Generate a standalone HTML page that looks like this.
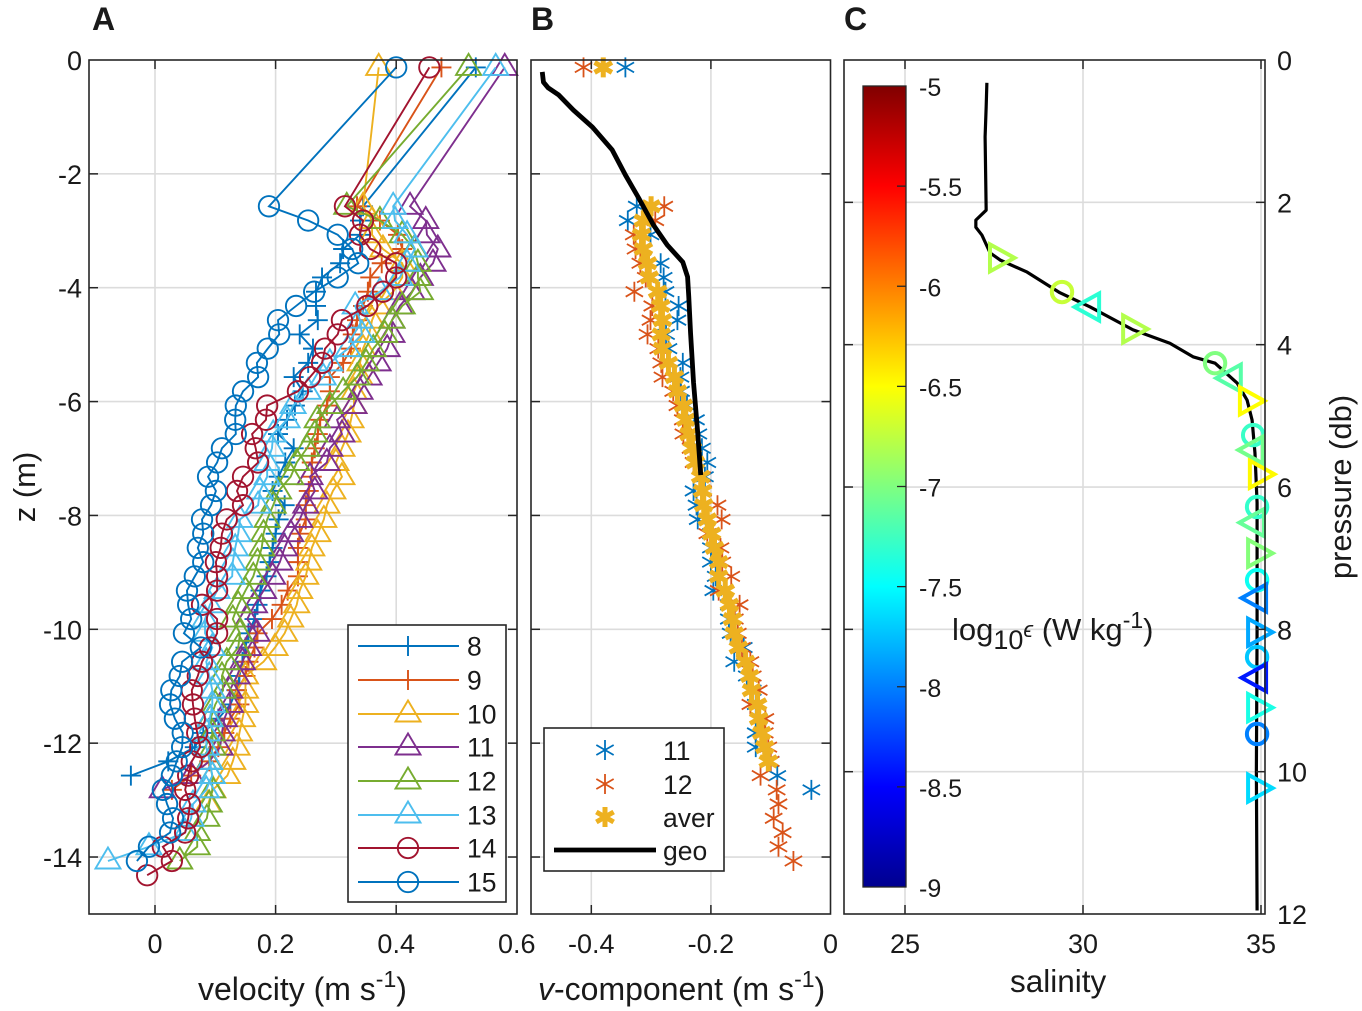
<!DOCTYPE html>
<html lang="en">
<head>
<meta charset="utf-8">
<title>Velocity, v-component and salinity profiles</title>
<style>
html,body{margin:0;padding:0;background:#fff;}
svg{display:block;}
text{font-family:"Liberation Sans",Arial,sans-serif;fill:#1a1a1a;}
</style>
</head>
<body>
<svg id="chart" width="1362" height="1011" viewBox="0 0 1362 1011" xmlns="http://www.w3.org/2000/svg">
<defs>
<linearGradient id="jetGrad" x1="0" y1="1" x2="0" y2="0">
<stop offset="0" stop-color="#00008f"/>
<stop offset="0.125" stop-color="#0000ff"/>
<stop offset="0.375" stop-color="#00ffff"/>
<stop offset="0.625" stop-color="#ffff00"/>
<stop offset="0.875" stop-color="#ff0000"/>
<stop offset="1" stop-color="#800000"/>
</linearGradient>
</defs>
<g id="layer"></g>
<text x="92" y="30" font-size="32" font-weight="bold">A</text>
<text x="531" y="30" font-size="32" font-weight="bold">B</text>
<text x="844" y="30" font-size="32" font-weight="bold">C</text>
<text x="198" y="1000" font-size="32">velocity (m s<tspan font-size="23" dy="-13">-1</tspan><tspan dy="13">)</tspan></text>
<text x="538" y="1000" font-size="32"><tspan font-style="italic">v</tspan>-component (m s<tspan font-size="23" dy="-13">-1</tspan><tspan dy="13">)</tspan></text>
<text x="1010" y="992" font-size="31.5">salinity</text>
<text transform="translate(35,487) rotate(-90)" font-size="31" text-anchor="middle">z (m)</text>
<text transform="translate(1351,487) rotate(-90)" font-size="31" text-anchor="middle">pressure (db)</text>
<text x="952" y="640" font-size="31">log<tspan font-size="27" dy="9">10</tspan><tspan font-size="22" font-style="italic" dy="-12">ϵ</tspan><tspan dy="3"> (W kg</tspan><tspan font-size="23" dy="-12">-1</tspan><tspan dy="12">)</tspan></text>
</svg>
<script>
// Shared depth bins (m)
const depths = [-0.13,-2.57,-2.82,-3.07,-3.32,-3.57,-3.82,-4.07,-4.32,-4.57,-4.82,-5.07,-5.32,-5.57,-5.82,-6.07,-6.32,-6.57,-6.82,-7.07,-7.32,-7.57,-7.82,-8.07,-8.32,-8.57,-8.82,-9.07,-9.32,-9.57,-9.82,-10.07,-10.32,-10.57,-10.82,-11.07,-11.32,-11.57,-11.82,-12.07,-12.32,-12.57,-12.82,-13.07,-13.32,-13.57,-13.82,-14.07,-14.32];

// Panel A: velocity (m/s) for each profile
const vel8 = [.532,.345,.34,.34,.312,.307,.277,.267,.267,.27,.24,.262,.254,.23,.245,.232,.219,.204,.23,.216,.205,.195,.215,.205,.2,.195,.19,.185,.175,.17,.165,.155,.15,.145,.14,.135,.125,.105,.08,.066,.022,-.04];
const vel9 = [.475,.335,.373,.403,.41,.376,.357,.353,.345,.335,.328,.325,.312,.29,.29,.285,.274,.27,.265,.26,.26,.255,.25,.25,.24,.237,.237,.237,.22,.21,.194,.17,.165,.155,.15,.136,.14,.125,.115,.105,.09,.06,.028];
const vel10 = [.371,.345,.36,.36,.378,.41,.41,.395,.37,.36,.355,.345,.34,.34,.33,.33,.325,.32,.31,.3,.31,.295,.285,.28,.27,.26,.255,.25,.24,.235,.225,.215,.199,.18,.15,.15,.15,.145,.14,.136,.129,.12,.096,.088];
const vel11 = [.58,.423,.449,.451,.469,.461,.44,.426,.406,.393,.393,.385,.37,.355,.34,.33,.302,.31,.29,.285,.257,.265,.25,.24,.225,.215,.207,.195,.18,.165,.153,.169,.155,.145,.136,.124,.125,.115,.111,.108,.09,.06,.012];
const vel12 = [.52,.318,.373,.41,.43,.436,.436,.44,.41,.393,.381,.362,.35,.335,.312,.29,.269,.265,.252,.235,.225,.205,.196,.186,.18,.177,.17,.163,.15,.138,.129,.141,.138,.119,.111,.113,.1,.092,.095,.096,.09,.095,.095,.09,.086,.07,.07,.041];
const vel13 = [.565,.395,.398,.418,.431,.418,.406,.373,.332,.34,.343,.32,.29,.279,.254,.229,.219,.196,.194,.186,.186,.174,.171,.141,.138,.133,.129,.128,.103,.091,.083,.083,.095,.085,.09,.095,.095,.091,.086,.085,.091,.095,.085,.063,.06,.05,-.01,-.078];
const vel14 = [.455,.315,.345,.34,.357,.4,.4,.378,.352,.31,.303,.282,.277,.257,.237,.186,.184,.161,.167,.171,.146,.136,.146,.119,.111,.109,.101,.103,.103,.078,.103,.103,.091,.078,.071,.061,.063,.066,.07,.075,.061,.055,.05,.058,.055,.05,.013,.028,-.013];
const vel15 = [.4,.189,.254,.303,.327,.337,.303,.264,.234,.204,.206,.187,.169,.171,.146,.134,.133,.134,.111,.103,.088,.101,.093,.078,.08,.071,.08,.066,.053,.055,.06,.048,.076,.045,.041,.027,.025,.033,.046,.045,.036,.028,.013,.02,.03,.025,-.01,-.03];

// Panel A: series metadata
const seriesNames = ['8','9','10','11','12','13','14','15'];
const seriesColors = ['#0072BD','#D95319','#EDB120','#7E2F8E','#77AC30','#4DBEEE','#A2142F','#0072BD'];
const seriesMarkers = ['plus','plus','tri','tri','tri','tri','circle','circle'];
const seriesValues = [vel8,vel9,vel10,vel11,vel12,vel13,vel14,vel15];

// Panel B: v-component (m/s)
const vComp11 = [-.343,-.324,-.339,-.301,-.313,-.284,-.279,-.276,-.254,-.256,-.275,-.271,-.247,-.251,-.25,-.24,-.225,-.221,-.215,-.206,-.21,-.229,-.224,-.222,-.2,-.2,-.2,-.192,-.196,-.17,-.17,-.167,-.145,-.161,-.14,-.13,-.125,-.12,-.125,-.125,-.1,-.089,-.032];
const vComp12 = [-.413,-.278,-.293,-.329,-.326,-.318,-.309,-.328,-.298,-.301,-.306,-.288,-.283,-.281,-.263,-.256,-.247,-.246,-.234,-.229,-.215,-.213,-.189,-.182,-.206,-.184,-.181,-.166,-.187,-.152,-.16,-.155,-.148,-.134,-.13,-.12,-.134,-.109,-.11,-.104,-.1,-.117,-.09,-.087,-.095,-.08,-.087,-.062];
const vCompAver = [-.38,-.3,-.313,-.316,-.313,-.306,-.303,-.289,-.284,-.281,-.283,-.281,-.271,-.261,-.256,-.246,-.242,-.237,-.231,-.226,-.217,-.214,-.212,-.206,-.199,-.194,-.187,-.187,-.176,-.169,-.164,-.161,-.154,-.142,-.135,-.132,-.122,-.12,-.115,-.11,-.104];
const geoV = [-.482,-.48,-.472,-.455,-.43,-.398,-.365,-.343,-.321,-.296,-.273,-.247,-.239,-.237,-.234,-.229,-.222,-.217];
const geoZ = [-.21,-.39,-.49,-.61,-.88,-1.18,-1.58,-2.02,-2.42,-2.9,-3.25,-3.55,-3.81,-4.16,-4.8,-5.67,-6.55,-7.29];

// Panel C: salinity profile
const salinity = [27.3,27.28,27.25,27.28,26.99,26.99,27.16,27.39,27.67,28.43,29.35,30.2,31.4,32.44,33.09,33.71,34.33,34.61,34.75,34.83,34.89,34.89,34.87,34.89];
const salPressure = [.32,.66,1.08,2.11,2.25,2.35,2.46,2.71,2.81,2.98,3.27,3.47,3.79,3.98,4.17,4.26,4.54,4.78,5.06,5.52,6.22,8,10,11.95];

// Panel C: dissipation markers
const epsSalinity = [27.64,29.41,30.2,31.38,33.71,34.18,34.66,34.78,34.8,34.94,34.89,34.83,34.89,34.89,34.89,34.89,34.89,34.89,34.89,34.89,34.89];
const epsPressure = [2.78,3.26,3.47,3.78,4.26,4.47,4.79,5.27,5.48,5.82,6.28,6.5,6.93,7.31,7.56,8.04,8.39,8.68,9.1,9.47,10.23];
const epsLog = [-6.8,-6.72,-7.33,-6.8,-7,-7.16,-6.5,-7.28,-7.05,-6.48,-7.3,-7.1,-6.98,-7.45,-8,-7.84,-7.72,-8.4,-7.4,-8,-7.64];
const epsMarker = ['r','o','l','r','o','l','r','o','l','r','o','l','r','o','l','r','o','l','r','o','r'];

// Tick labels
const zTicks = [0,-2,-4,-6,-8,-10,-12,-14];
const velTicks = [0,0.2,0.4,0.6];
const vTicks = [-0.4,-0.2,0];
const salTicks = [25,30,35];
const presTicks = [0,2,4,6,8,10,12];
const cbTicks = [-5,-5.5,-6,-6.5,-7,-7.5,-8,-8.5,-9];

// Axis functions
function yZ(z){return 60-z*56.93;}
function xVel(v){return 155+v*603;}
function xV(v){return 830.5+v*598;}
function xSal(s){return 905+(s-25)*35.6;}
function yPres(p){return 60+p*71.17;}
function yCb(v){return 86+(-5-v)*200.25;}
function jet(v){
  const t=(v+9)/4;
  const ch=function(c){return Math.round(255*Math.max(0,Math.min(1,c)));};
  const r=Math.min(4*t-1.5,-4*t+4.5), g=Math.min(4*t-0.5,-4*t+3.5), b=Math.min(4*t+0.5,-4*t+2.5);
  return 'rgb('+ch(r)+','+ch(g)+','+ch(b)+')';
}

const NS='http://www.w3.org/2000/svg';
const root=document.getElementById('layer');
const INK='#262626', GRID='#dcdcdc';
function mk(tag,attrs,parent){
  const e=document.createElementNS(NS,tag);
  for(const k in attrs){e.setAttribute(k,attrs[k]);}
  (parent||root).appendChild(e);
  return e;
}
function markerEl(kind,x,y,color,lw,parent){
  if(kind==='circle'){return mk('circle',{cx:x,cy:y,r:10.2,fill:'none',stroke:color,'stroke-width':lw},parent);}
  if(kind==='plus'){return mk('path',{d:'M'+(x-10)+' '+y+'H'+(x+10)+'M'+x+' '+(y-10)+'V'+(y+10),fill:'none',stroke:color,'stroke-width':lw},parent);}
  if(kind==='tri'){return mk('path',{d:'M'+x+' '+(y-13.5)+'L'+(x+12.5)+' '+(y+7.5)+'L'+(x-12.5)+' '+(y+7.5)+'Z',fill:'none',stroke:color,'stroke-width':lw},parent);}
  if(kind==='star'){const dx=8.66,dy=5;return mk('path',{d:'M'+x+' '+(y-10)+'V'+(y+10)+'M'+(x-dx)+' '+(y-dy)+'L'+(x+dx)+' '+(y+dy)+'M'+(x-dx)+' '+(y+dy)+'L'+(x+dx)+' '+(y-dy),fill:'none',stroke:color,'stroke-width':lw,'stroke-linecap':'butt'},parent);}
  if(kind==='r'){return mk('path',{d:'M'+(x-9)+' '+(y-13.5)+'L'+(x+15.5)+' '+y+'L'+(x-9)+' '+(y+13.5)+'Z',fill:'none',stroke:color,'stroke-width':lw},parent);}
  if(kind==='l'){return mk('path',{d:'M'+(x+9)+' '+(y-13.5)+'L'+(x-15.5)+' '+y+'L'+(x+9)+' '+(y+13.5)+'Z',fill:'none',stroke:color,'stroke-width':lw},parent);}
}
function label(txt,x,y,anchor,size,parent){
  const t=mk('text',{x:x,y:y,'text-anchor':anchor,'font-size':size},parent);
  t.textContent=txt;
  return t;
}
function vline(x,y1,y2,col,w,parent){return mk('line',{x1:x,x2:x,y1:y1,y2:y2,stroke:col,'stroke-width':w},parent);}
function hline(y,x1,x2,col,w,parent){return mk('line',{x1:x1,x2:x2,y1:y,y2:y,stroke:col,'stroke-width':w},parent);}

// Grid + frame for one panel
function panel(name,L,R,T,B,xs,ys){
  const g=mk('g',{});
  
  
  xs.forEach(function(x){if(x>L+1&&x<R-1){vline(x,T,B,GRID,1.6,g);}});
  ys.forEach(function(y){if(y>T+1&&y<B-1){hline(y,L,R,GRID,1.6,g);}});
}
function frame(name,L,R,T,B,xs,ys){
  const g=mk('g',{});
  
  
  mk('rect',{x:L,y:T,width:R-L,height:B-T,fill:'none',stroke:INK,'stroke-width':1.6},g);
  xs.forEach(function(x){if(x>L+1&&x<R-1){vline(x,T,T+9,INK,1.5,g);vline(x,B-9,B,INK,1.5,g);}});
  ys.forEach(function(y){if(y>T+1&&y<B-1){hline(y,L,L+9,INK,1.5,g);hline(y,R-9,R,INK,1.5,g);}});
}

const TOP=60,BOT=914;
const zPix=zTicks.map(yZ);
const presPix=presTicks.map(yPres);

panel('panel-a',89,517,TOP,BOT,velTicks.map(xVel),zPix);
panel('panel-b',531,830.5,TOP,BOT,vTicks.map(xV),zPix);
panel('panel-c',844,1265,TOP,BOT,salTicks.map(xSal),presPix);

// Panel A series
seriesValues.forEach(function(vals,s){
  const g=mk('g',{});
  
  
  const pts=vals.map(function(v,i){return xVel(v)+','+yZ(depths[i]);}).join(' ');
  const ln=mk('polyline',{points:pts,fill:'none',stroke:seriesColors[s],'stroke-width':1.9},g);
  
  
  vals.forEach(function(v,i){
    const m=markerEl(seriesMarkers[s],xVel(v),yZ(depths[i]),seriesColors[s],1.9,g);
    
    
  });
});

// Panel A legend
(function(){
  const g=mk('g',{});
  
  
  mk('rect',{x:348,y:625,width:158,height:277,fill:'#fff',stroke:INK,'stroke-width':1.6},g);
  const rowY=[646,680,714,747,781,815,848,882];
  seriesNames.forEach(function(n,i){
    const row=mk('g',{},g);
    
    
    hline(rowY[i],358,459,seriesColors[i],1.9,row);
    markerEl(seriesMarkers[i],408,rowY[i],seriesColors[i],1.9,row);
    label(n,467,rowY[i]+9.5,'start',26.5,row);
  });
})();

// Panel B series
[[vComp11,'#0072BD',1.8,'vcomp-11'],[vComp12,'#D95319',1.8,'vcomp-12'],[vCompAver,'#EDB120',5,'vcomp-aver']].forEach(function(def){
  const g=mk('g',{});
  
  
  def[0].forEach(function(v,i){
    const m=markerEl('star',xV(v),yZ(depths[i]),def[1],def[2],g);
    
    
  });
});
(function(){
  const pts=geoV.map(function(v,i){return xV(v)+','+yZ(geoZ[i]);}).join(' ');
  const ln=mk('polyline',{points:pts,fill:'none',stroke:'#000','stroke-width':4.8,'stroke-linejoin':'round'});
  
  
})();

// Panel B legend
(function(){
  const g=mk('g',{});
  
  
  mk('rect',{x:544,y:728,width:180,height:143,fill:'#fff',stroke:INK,'stroke-width':1.6},g);
  const e1=markerEl('star',605,750,'#0072BD',1.8,g);
  
  
  const e2=markerEl('star',605,784,'#D95319',1.8,g);
  
  
  const e3=markerEl('star',605,817,'#EDB120',5,g);
  
  
  const e4=hline(850,554,656,'#000',4.8,g);
  
  
  label('11',663,760,'start',26.5,g);
  label('12',663,794,'start',26.5,g);
  label('aver',663,827,'start',26.5,g);
  label('geo',663,860,'start',26.5,g);
})();

// Panel C colorbar
(function(){
  const g=mk('g',{});
  
  
  mk('rect',{x:863,y:86,width:43,height:801,fill:'url(#jetGrad)',stroke:INK,'stroke-width':1.3},g);
  cbTicks.forEach(function(v){
    const y=yCb(v);
    if(v>-9&&v<-5){hline(y,897,906,INK,1.3,g);}
    label(String(v),919,y+10,'start',25,g);
  });
})();

// Panel C salinity
(function(){
  const pts=salinity.map(function(s,i){return xSal(s)+','+yPres(salPressure[i]);}).join(' ');
  const ln=mk('polyline',{points:pts,fill:'none',stroke:'#000','stroke-width':3.2,'stroke-linejoin':'round'});
  
  
  epsLog.forEach(function(v,i){
    const kind=epsMarker[i]==='o'?'circle':epsMarker[i];
    const m=markerEl(kind,xSal(epsSalinity[i]),yPres(epsPressure[i]),jet(v),4);
    
    
  });
})();

frame('panel-a',89,517,TOP,BOT,velTicks.map(xVel),zPix);
frame('panel-b',531,830.5,TOP,BOT,vTicks.map(xV),zPix);
frame('panel-c',844,1265,TOP,BOT,salTicks.map(xSal),presPix);

// Tick labels
(function(){
  const g=mk('g',{});
  
  
  zTicks.forEach(function(z){label(String(z),82,yZ(z)+10,'end',27,g);});
  velTicks.forEach(function(v){label(String(v),xVel(v),953,'middle',27,g);});
  vTicks.forEach(function(v){label(String(v),xV(v),953,'middle',27,g);});
  salTicks.forEach(function(s){label(String(s),xSal(s),953,'middle',27,g);});
  presTicks.forEach(function(p){label(String(p),1277,yPres(p)+10,'start',27,g);});
})();
</script>
</body>
</html>
